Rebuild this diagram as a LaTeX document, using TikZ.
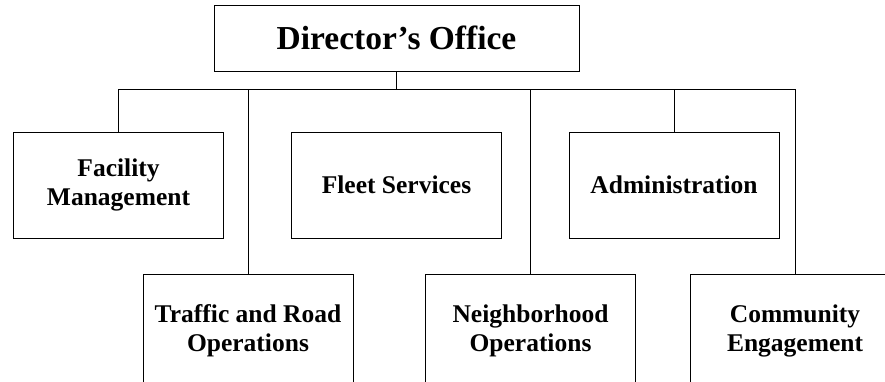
\documentclass[tikz,border=0pt]{standalone}
\usepackage{fontspec}
\setmainfont{Liberation Serif}
\begin{document}
\begin{tikzpicture}[x=1pt,y=-1pt,
  unit/.style={draw=black,line width=0.9pt,minimum width=210pt,minimum height=106pt,
    align=center,font=\fontsize{25.5}{29}\selectfont\bfseries,inner sep=0pt},
  low/.style={unit,minimum height=114pt},
  top/.style={draw=black,line width=0.9pt,minimum width=365pt,minimum height=66pt,
    font=\fontsize{33.5}{38}\selectfont\bfseries,inner sep=0pt},
  link/.style={line width=0.7pt}]
\useasboundingbox (0,0) rectangle (885,381);
\node[top] (dir) at (396.5,38) {Director’s Office};
\node[unit] (fac) at (118.5,185) {Facility\\Management};
\node[unit] (flt) at (396.5,185) {Fleet Services};
\node[unit] (adm) at (674,185) {Administration};
\node[low] (trf) at (248,331) {Traffic and Road\\Operations};
\node[low] (nbh) at (530.5,331) {Neighborhood\\Operations};
\node[low] (com) at (795,331) {Community\\Engagement};
\coordinate (bar) at (0,89);
\draw[link] (dir.south) -- (dir.south |- bar);
\draw[link] (fac.north) -- (fac.north |- bar) -- (com.north |- bar) -- (com.north);
\draw[link] (trf.north) -- (trf.north |- bar);
\draw[link] (nbh.north) -- (nbh.north |- bar);
\draw[link] (adm.north) -- (adm.north |- bar);
\end{tikzpicture}
\end{document}
